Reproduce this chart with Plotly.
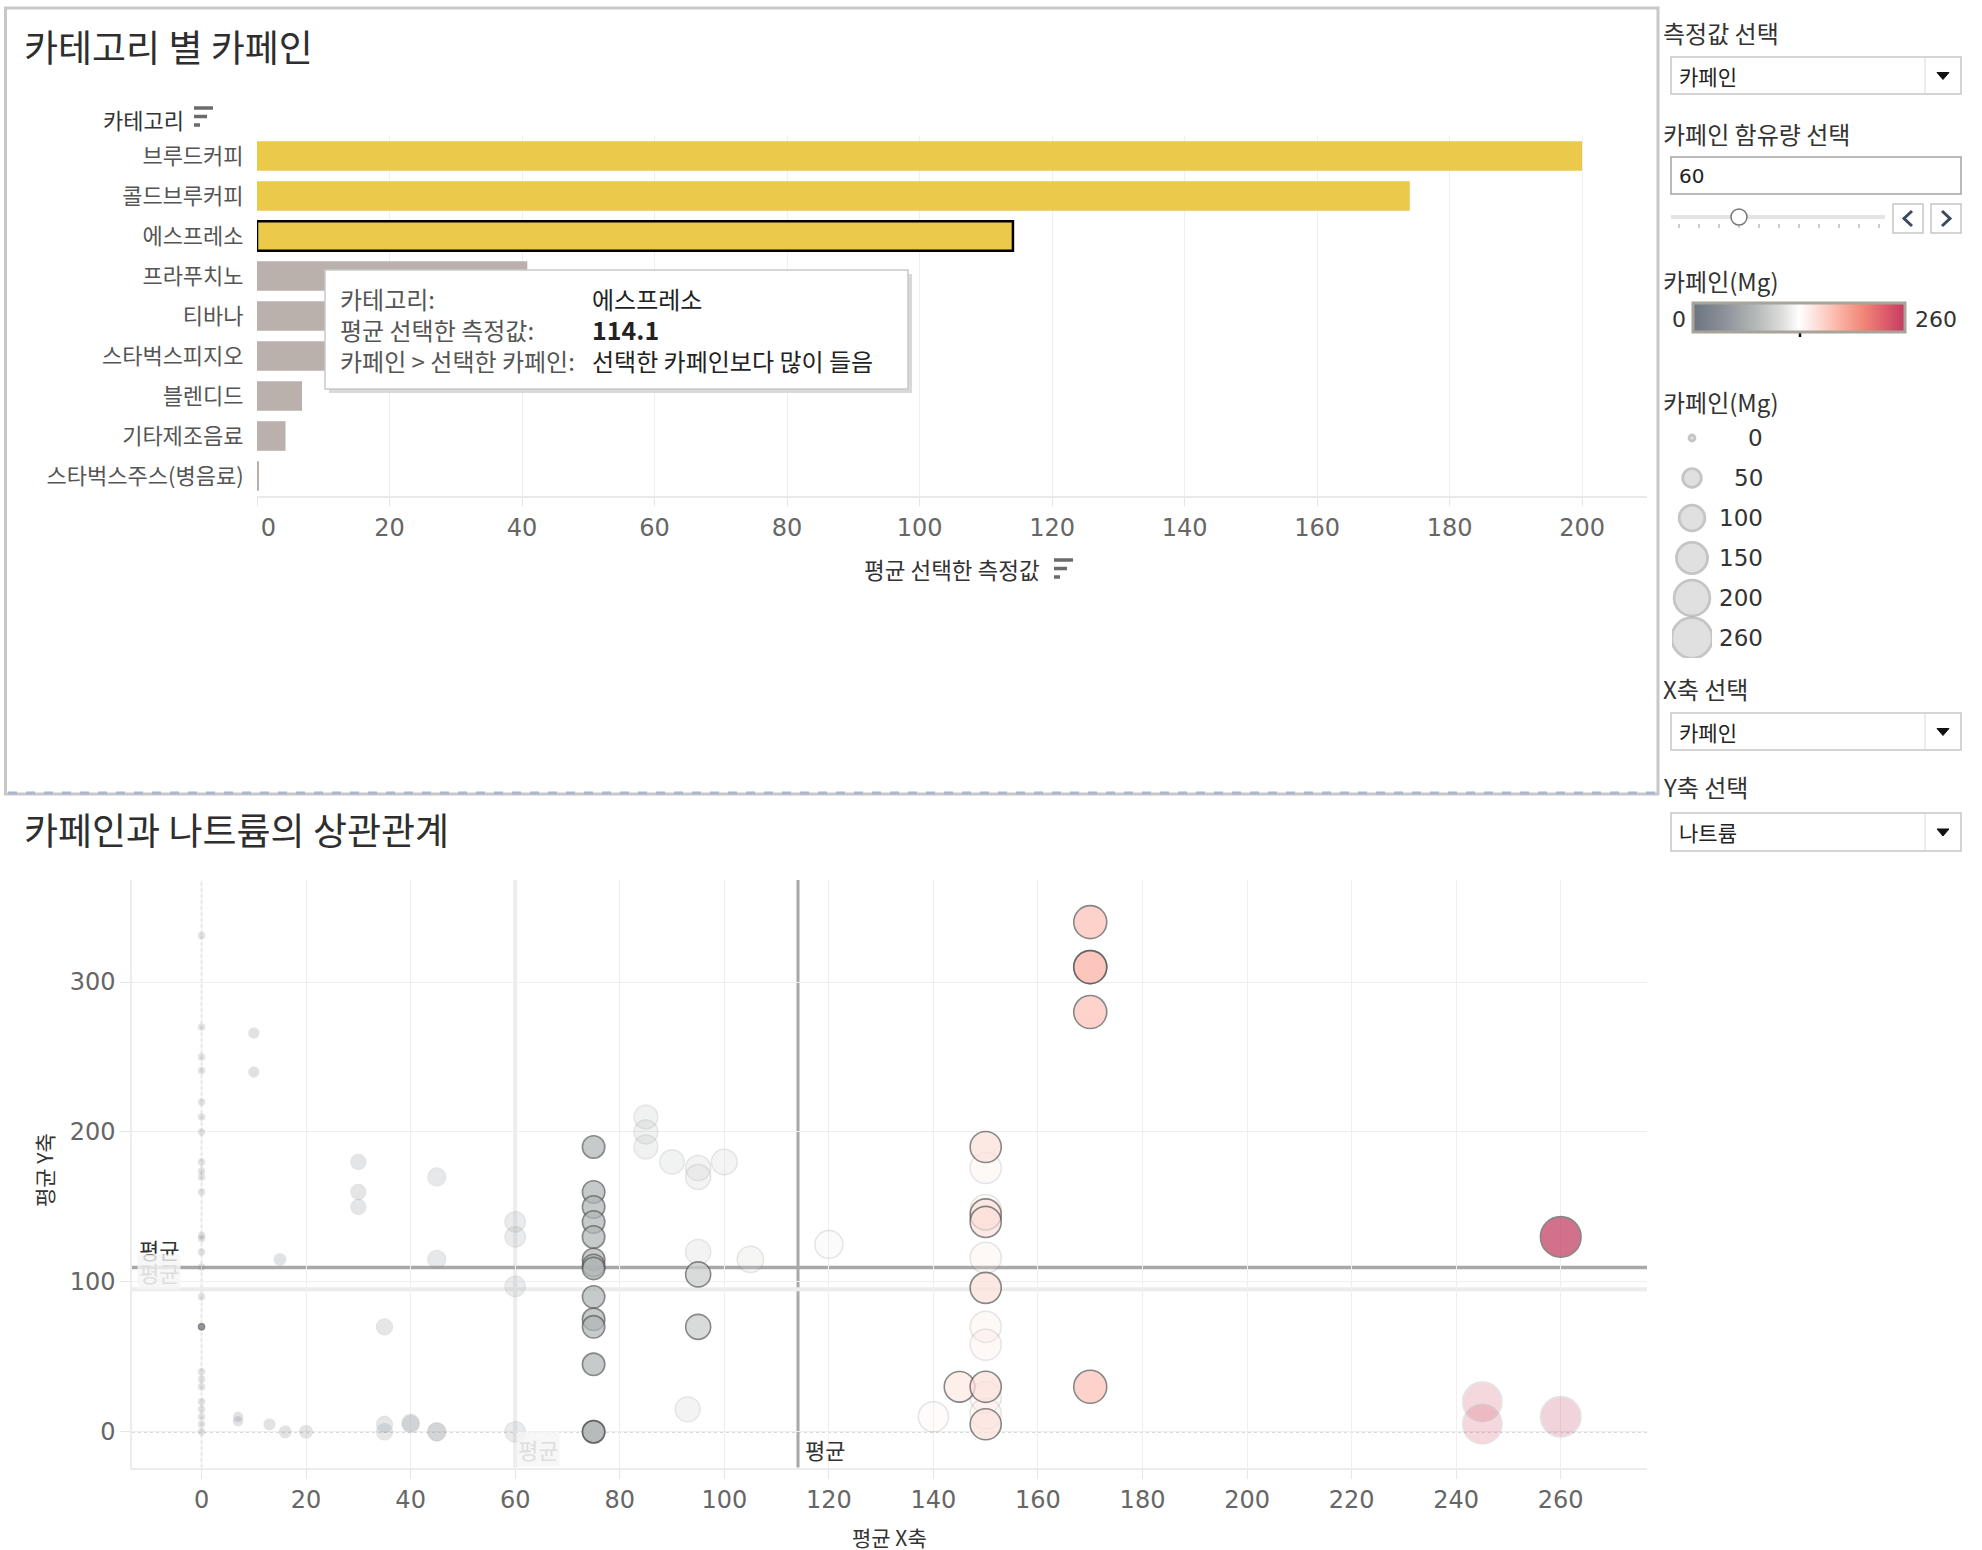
import math
import plotly.graph_objects as go

# ---------------- data ----------------
categories = ['브루드커피', '콜드브루커피', '에스프레소', '프라푸치노', '티바나',
              '스타벅스피지오', '블렌디드', '기타제조음료', '스타벅스주스(병음료)']
avg_caffeine = [200, 174, 114.1, 40.8, 28, 22, 6.8, 4.3, 0.3]
selected_caffeine = 60
selected_category = '에스프레소'

bar_ticks = [0, 20, 40, 60, 80, 100, 120, 140, 160, 180, 200]
bar_ticktext = ['\u00a0\u00a0\u00a00', '20', '40', '60', '80', '100', '120', '140', '160', '180', '200']

# highlighted (selected category) points: caffeine (x), sodium (y)
hl_caffeine = [75, 75, 75, 75, 75, 75, 75, 75, 75, 75, 75, 75, 75, 75,
               95, 95, 145,
               150, 150, 150, 150, 150, 150,
               170, 170, 170, 170, 170,
               260, 0]
hl_sodium = [190, 160, 150, 140, 130, 115, 111, 109, 90, 75, 70, 45, 0, 0,
             105, 70, 30,
             190, 145, 140, 96, 30, 5,
             340, 310, 310, 280, 30,
             130, 70]

# faded (other categories) points
fd_caffeine = [0] * 24 + [7, 7, 10, 10, 13, 15, 16, 20,
                          30, 30, 30, 35, 35, 35, 40, 40, 45, 45, 45, 45,
                          60, 60, 60, 60,
                          85, 85, 85, 90, 95, 95, 95, 100, 105, 93, 120,
                          140, 150, 150, 150, 150, 150, 150, 150,
                          245, 245, 260]
fd_sodium = [331, 270, 250, 241, 220, 210, 200, 180, 174, 170, 160, 131, 129,
             120, 110, 90, 40, 35, 30, 20, 15, 10, 5, 0] + \
            [10, 7, 266, 240, 5, 115, 0, 0,
             180, 160, 150, 70, 5, 0, 5, 6, 170, 115, 0, 0,
             140, 130, 97, 0,
             210, 200, 190, 180, 176, 170, 120, 180, 115, 15, 125,
             10, 176, 148, 116, 70, 58, 23, 12,
             20, 5, 10]

mean_x_sel, mean_y_sel = 114.1, 109.6
mean_x_all, mean_y_all = 60, 95

scatter_xticks = list(range(0, 261, 20))
scatter_yticks = [0, 100, 200, 300]
size_legend_values = [0, 50, 100, 150, 200, 260]
caffeine_min, caffeine_max = 0, 260

# ---------------- style helpers ----------------
W, H = 1982, 1550
FONT = 'Noto Sans CJK KR'
NUMFONT = 'DejaVu Sans, Noto Sans CJK KR'
GOLD = '#EBC94B'
GRAYBAR = '#BAB0AC'


def fx(x):
    return x / W


def fy(y):
    return 1 - y / H


def msize(c):
    return math.sqrt(36 + 6.2 * c)


colorscale = [[0, '#6b7480'], [0.15, '#8c9298'], [0.3, '#b5b9b9'], [0.42, '#dddddb'],
              [0.5, '#ffffff'], [0.58, '#fde0da'], [0.68, '#fbb7aa'], [0.8, '#f08878'],
              [0.9, '#df5f6c'], [1, '#c23b60']]

shapes = []
annotations = []


def txt(x, y, s, size=20, color='#333333', xanchor='left', family=FONT, **kw):
    annotations.append(dict(x=fx(x), y=fy(y), xref='paper', yref='paper', text=s,
                            showarrow=False, xanchor=xanchor, yanchor='middle',
                            font=dict(size=size, color=color, family=family), **kw))


def rect(x0, y0, x1, y1, line_color='#c8c8c8', lw=1.5, fill='white', dash=None):
    ln = dict(color=line_color, width=lw)
    if dash:
        ln['dash'] = dash
    shapes.append(dict(type='rect', xref='paper', yref='paper', x0=fx(x0), x1=fx(x1),
                       y0=fy(y0), y1=fy(y1), line=ln, fillcolor=fill, layer='above'))


def line(x0, y0, x1, y1, color, lw, dash=None):
    ln = dict(color=color, width=lw)
    if dash:
        ln['dash'] = dash
    shapes.append(dict(type='line', xref='paper', yref='paper', x0=fx(x0), x1=fx(x1),
                       y0=fy(y0), y1=fy(y1), line=ln, layer='above'))


def path(points, color, lw, closed=False, fill=None):
    d = 'M ' + ' L '.join(f'{fx(a):.5f},{fy(b):.5f}' for a, b in points)
    if closed:
        d += ' Z'
    shapes.append(dict(type='path', xref='paper', yref='paper', path=d,
                       line=dict(color=color, width=lw), fillcolor=fill or 'rgba(0,0,0,0)',
                       layer='above'))


fig = go.Figure()

# ---------------- bar chart ----------------
bar_colors = [GOLD if v > selected_caffeine else GRAYBAR for v in avg_caffeine]
bar_lines = [2.5 if c == selected_category else 0 for c in categories]
fig.add_trace(go.Bar(x=avg_caffeine, y=categories, orientation='h', width=0.74,
                     marker=dict(color=bar_colors, line=dict(color='black', width=bar_lines)),
                     xaxis='x', yaxis='y', showlegend=False, hoverinfo='skip'))

# ---------------- scatter ----------------
fig.add_trace(go.Scatter(x=fd_caffeine, y=fd_sodium, mode='markers', xaxis='x2', yaxis='y2',
                         showlegend=False, hoverinfo='skip',
                         marker=dict(size=[msize(c) for c in fd_caffeine], color=fd_caffeine,
                                     colorscale=colorscale, cmin=caffeine_min, cmax=caffeine_max,
                                     opacity=0.22, showscale=False,
                                     line=dict(color='#8a8a8a', width=1.5))))
fig.add_trace(go.Scatter(x=hl_caffeine, y=hl_sodium, mode='markers', xaxis='x2', yaxis='y2',
                         showlegend=False, hoverinfo='skip',
                         marker=dict(size=[msize(c) for c in hl_caffeine], color=hl_caffeine,
                                     colorscale=colorscale, cmin=caffeine_min, cmax=caffeine_max,
                                     opacity=0.72, showscale=True,
                                     line=dict(color='#5a5a5a', width=1.6),
                                     colorbar=dict(orientation='h', x=fx(1799), xanchor='center',
                                                   y=fy(319), yanchor='middle',
                                                   lenmode='pixels', len=212, thickness=29,
                                                   outlinewidth=3, outlinecolor='#a8a49a',
                                                   showticklabels=False, ticks='',
                                                   xpad=0, ypad=0))))

# ---------------- size legend ----------------
fig.add_trace(go.Scatter(x=[0] * len(size_legend_values), y=list(range(len(size_legend_values))),
                         mode='markers', xaxis='x3', yaxis='y3', showlegend=False, hoverinfo='skip',
                         marker=dict(size=[msize(v) for v in size_legend_values], color='#d4d4d4',
                                     line=dict(color='#adadad', width=2.8))))
for i, v in enumerate(size_legend_values):
    txt(1765, 438 + 40 * i, str(v), size=23, color='#333333', xanchor='right', family=NUMFONT)

# ---------------- reference lines in scatter ----------------
for xv, col, lw in [(mean_x_all, '#ececec', 4), (mean_x_sel, '#a8a8a8', 3)]:
    shapes.append(dict(type='line', xref='x2', yref='y2 domain', x0=xv, x1=xv, y0=0, y1=1,
                       line=dict(color=col, width=lw), layer='below'))
for yv, col, lw in [(mean_y_all, '#ececec', 4), (mean_y_sel, '#a8a8a8', 3.5)]:
    shapes.append(dict(type='line', xref='x2 domain', yref='y2', x0=0, x1=1, y0=yv, y1=yv,
                       line=dict(color=col, width=lw), layer='below'))
shapes.append(dict(type='line', xref='x2', yref='y2 domain', x0=0, x1=0, y0=0, y1=1,
                   line=dict(color='#b4b4b4', width=1.5, dash='3px,3px'), layer='below'))
shapes.append(dict(type='line', xref='x2 domain', yref='y2', x0=0, x1=1, y0=0, y1=0,
                   line=dict(color='#b4b4b4', width=1.5, dash='3px,3px'), layer='below'))

# mean labels
txt(137, 1249, '평균', size=22, color='#333333')
txt(137, 1272, '평균', size=22, color='#dedede', bgcolor='rgba(245,245,245,0.8)')
txt(516, 1449, '평균', size=22, color='#dedede', bgcolor='rgba(245,245,245,0.8)')
txt(803, 1449, '평균', size=22, color='#333333')

# ---------------- titles & axis labels ----------------
txt(22, 46, '카테고리 별 카페인', size=37, color='#2e2e2e')
txt(22, 829, '카페인과 나트륨의 상관관계', size=37, color='#2e2e2e')
txt(186, 119, '카테고리', size=22, color='#333333', xanchor='right')
txt(952, 569, '평균 선택한 측정값', size=22.5, color='#333333', xanchor='center')
txt(889, 1537, '평균 X축', size=21, color='#333333', xanchor='center')
annotations.append(dict(x=fx(44), y=fy(1170), xref='paper', yref='paper', text='평균 Y축',
                        showarrow=False, textangle=-90, xanchor='center', yanchor='middle',
                        font=dict(size=21, color='#333333', family=FONT)))

# sort icons
for (ix, iy) in [(194, 108), (1054, 560)]:
    for k, ln in enumerate([19, 13, 6]):
        line(ix, iy + 8.5 * k, ix + ln, iy + 8.5 * k, '#6b6b6b', 3.5)

# ---------------- top panel border ----------------
rect(5.5, 8, 1658, 794, line_color='#c8c8c8', lw=3, fill='rgba(0,0,0,0)')
line(8, 793, 1655, 793, '#a9b8d0', 3, dash='dash')

# ---------------- tooltip ----------------
rect(329, 274, 912, 393, line_color='rgba(0,0,0,0)', lw=0, fill='#d9d9d9')
rect(325, 270, 908, 389, line_color='#c9c9c9', lw=1.5, fill='white')
txt(338, 298, '카테고리:', size=24, color='#555555')
txt(590, 298, '에스프레소', size=24, color='#222222')
txt(338, 329, '평균 선택한 측정값:', size=24, color='#555555')
txt(590, 329, '<b>114.1</b>', size=25, color='#222222')
txt(338, 360, '카페인 &gt; 선택한 카페인:', size=24, color='#555555')
txt(590, 360, '선택한 카페인보다 많이 들음', size=24, color='#222222')

# ---------------- right control panel ----------------
def dropdown(y0, y1, label):
    rect(1671, y0, 1961, y1, line_color='#c6c6c6', lw=1.5)
    line(1925, y0 + 1, 1925, y1 - 1, '#e0e0e0', 1.2)
    cy = (y0 + y1) / 2
    path([(1937, cy - 3), (1949, cy - 3), (1943, cy + 4)], '#111111', 1, closed=True, fill='#111111')
    txt(1677, cy, label, size=21, color='#222222')


txt(1661, 33, '측정값 선택', size=24)
dropdown(57, 94, '카페인')
txt(1661, 133, '카페인 함유량 선택', size=24)
rect(1671, 157, 1961, 194, line_color='#a4a4a4', lw=1.5)
txt(1677, 176, '60', size=20, color='#222222', family=NUMFONT)
line(1671, 217, 1885, 217, '#e4e4e4', 4)
for k in range(11):
    line(1679 + 20 * k, 224, 1679 + 20 * k, 228, '#bdbdbd', 1.5)
shapes.append(dict(type='circle', xref='paper', yref='paper', x0=fx(1731), x1=fx(1747),
                   y0=fy(225), y1=fy(209), line=dict(color='#777777', width=1.5),
                   fillcolor='white', layer='above'))
rect(1893, 204, 1923, 233, line_color='#c6c6c6', lw=1.5)
rect(1931, 204, 1961, 233, line_color='#c6c6c6', lw=1.5)
path([(1912, 211), (1904, 218.5), (1912, 226)], '#3c4a5e', 3)
path([(1942, 211), (1950, 218.5), (1942, 226)], '#3c4a5e', 3)

txt(1661, 280, '카페인(Mg)', size=24)
txt(1679, 320, '0', size=22, color='#333333', xanchor='center', family=NUMFONT)
txt(1913, 320, '260', size=22, color='#333333', family=NUMFONT)
line(1800, 329, 1800, 337, '#111111', 2.5)

txt(1661, 402, '카페인(Mg)', size=24)
txt(1661, 688, 'X축 선택', size=24)
dropdown(713, 750, '카페인')
txt(1661, 787, 'Y축 선택', size=24)
dropdown(813, 851, '나트륨')

# ---------------- layout ----------------
fig.update_layout(
    width=W, height=H, margin=dict(l=0, r=0, t=0, b=0, pad=0, autoexpand=False),
    paper_bgcolor='white', plot_bgcolor='white',
    font=dict(family=FONT, color='#666666'),
    xaxis=dict(domain=[fx(257), fx(1647)], range=[0, 209.8], tickvals=bar_ticks,
               ticktext=bar_ticktext,
               showgrid=True, gridcolor='#efefef', gridwidth=1, zeroline=False,
               showline=True, linecolor='#eaeaea', linewidth=1.5,
               ticks='outside', ticklen=8, tickcolor='#e6e6e6', ticklabelstandoff=1,
               tickfont=dict(size=24, color='#666666', family=NUMFONT), anchor='y', fixedrange=True),
    yaxis=dict(domain=[fy(496), fy(136)], type='category', categoryorder='array',
               categoryarray=categories, range=[8.5, -0.5], showgrid=False, zeroline=False,
               showline=False, ticks='outside', ticklen=8, tickcolor='rgba(0,0,0,0)',
               tickfont=dict(size=22, color='#555555', family=FONT), anchor='x', fixedrange=True),
    xaxis2=dict(domain=[fx(132), fx(1647)], range=[-13.3, 276.5], tickvals=scatter_xticks,
                showgrid=True, gridcolor='#efefef', gridwidth=1.2, zeroline=False,
                showline=True, linecolor='#ececec', linewidth=1.5,
                ticks='outside', ticklen=10, tickcolor='#e6e6e6',
                tickfont=dict(size=24, color='#666666', family=NUMFONT), anchor='y2', fixedrange=True),
    yaxis2=dict(domain=[fy(1467.6), fy(880)], range=[-23.9, 368.1], tickvals=scatter_yticks,
                showgrid=True, gridcolor='#efefef', gridwidth=1.2, zeroline=False,
                showline=True, linecolor='#ececec', linewidth=1.5,
                ticks='outside', ticklen=10, tickcolor='#e6e6e6',
                tickfont=dict(size=24, color='#666666', family=NUMFONT), anchor='x2', fixedrange=True),
    xaxis3=dict(domain=[fx(1672), fx(1712)], range=[-1, 1], visible=False, anchor='y3'),
    yaxis3=dict(domain=[fy(658), fy(418)], range=[5.5, -0.5], visible=False, anchor='x3'),
    shapes=shapes, annotations=annotations,
)

POST = ("document.documentElement.style.margin='0';document.body.style.margin='0';"
        "document.body.style.padding='0';document.body.style.overflow='hidden';"
        "var g=document.getElementById('{plot_id}');"
        "g.style.position='fixed';g.style.left='0px';g.style.top='0px';")
fig.write_html('out.html', config={'displayModeBar': False}, post_script=POST)
